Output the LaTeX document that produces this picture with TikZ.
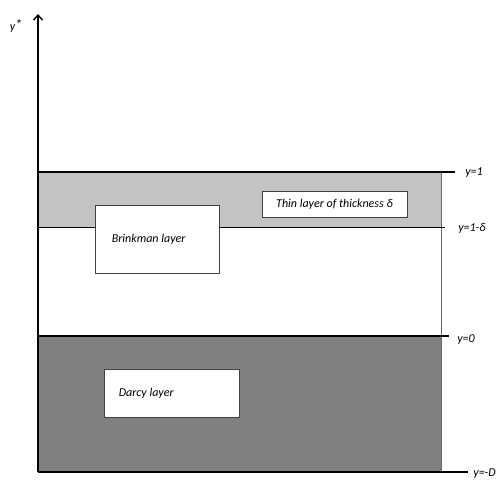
\documentclass[tikz,border=0pt]{standalone}
\usepackage{fontspec}
\setmainfont{Carlito}
\usetikzlibrary{arrows.meta}
\usetikzlibrary{positioning}

\definecolor{thingray}{HTML}{C3C3C3}
\definecolor{darcygray}{HTML}{808080}

\begin{document}
\begin{tikzpicture}[x=1pt, y=-1pt,
    label/.style={font=\itshape\fontsize{12}{14}\selectfont, inner sep=0pt},
    layerbox/.style={draw=black!75, fill=white, line width=0.8pt, inner sep=0pt},
    level/.style={line width=1.6pt}]
	\useasboundingbox (0,0) rectangle (498,480);

	% layers
	\fill[thingray] (38,172) rectangle (441,227);
	\fill[darcygray] (38,336) rectangle (441,472);
	\draw[black!60, line width=0.6pt] (441,172) -- (441,472);

	% levels
	\coordinate (o) at (38,472);
	\coordinate (top) at (38,14);
	\coordinate (one) at (38,172);
	\coordinate (onedelta) at (38,227);
	\coordinate (zero) at (38,336);
	\draw[level] (one) -- (455,172);
	\draw[line width=0.8pt] (onedelta) -- (445,227);
	\draw[level] (zero) -- (449,336);
	\draw[level] (o) -- (468,472);
	\draw[line width=1.4pt, -{Straight Barb[length=5pt, width=9pt]}] (o) -- (top);

	% labels of the levels
	\begin{scope}[every node/.style={label}]
		\node (ystar) at (16,26) {y\raisebox{1pt}{\fontsize{14}{14}\selectfont *}};
		\node (lone) at (474,173) {y=1};
		\node (lonedelta) at (472,228) {y=1-δ};
		\node (lzero) at (466,340) {y=0};
		\node[anchor=south east] (lminusd) at (496,478.5) {y=-D};
	\end{scope}

	% boxes
	\node[layerbox, minimum width=145pt, minimum height=26pt] (thin) at (334.5,204) {};
	\node[label] (thintext) at (thin) {Thin layer of thickness δ};
	\node[layerbox, minimum width=124pt, minimum height=68pt] (brink) at (157,239) {};
	\node[label, anchor=west] (brinktext) at ([xshift=17pt]brink.west) {Brinkman layer};
	\node[layerbox, minimum width=135pt, minimum height=48pt] (darcy) at (171.5,393) {};
	\node[label, anchor=west] (darcytext) at ([xshift=15pt]darcy.west) {Darcy layer};
\end{tikzpicture}
\end{document}
